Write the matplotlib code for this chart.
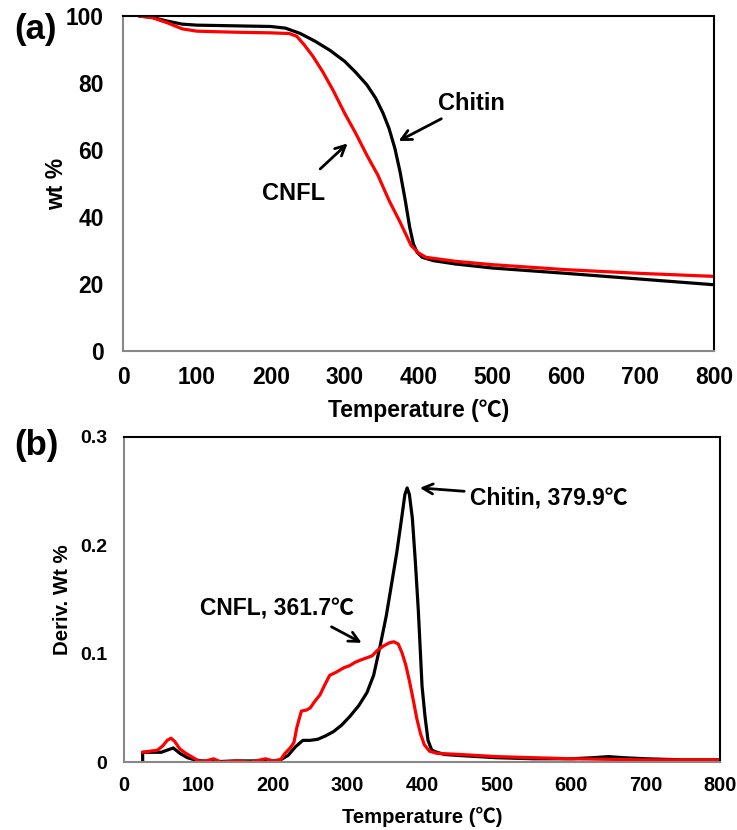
import matplotlib
matplotlib.use("Agg")
import matplotlib.pyplot as plt

plt.rcParams['font.family'] = ['Liberation Sans', 'Noto Sans CJK KR', 'DejaVu Sans']
plt.rcParams['font.weight'] = 'bold'

# ---- (a) TGA data ----
tga_chitin_T = [23, 40, 60, 80, 100, 150, 200, 220, 240, 260, 280, 300, 315, 330, 342, 352, 360, 368, 375, 382, 388, 393, 398, 405, 420, 450, 500, 600, 700, 800]
tga_chitin_wt = [100, 99.6, 98.5, 97.6, 97.3, 97.1, 96.9, 96.4, 94.8, 92.5, 89.8, 86.5, 83.2, 79.5, 75.5, 71, 66.5, 60.5, 53.5, 45, 37, 32, 29.5, 28, 27, 26, 24.8, 23.2, 21.5, 19.8]
tga_cnfl_T = [23, 40, 60, 80, 100, 150, 200, 225, 235, 245, 257, 270, 284, 300, 315, 330, 345, 360, 375, 390, 400, 410, 450, 500, 600, 700, 800]
tga_cnfl_wt = [100, 99.5, 98, 96.2, 95.5, 95.2, 95.0, 94.8, 94, 91.5, 88, 83.5, 78, 71, 65, 58.5, 52.5, 45, 38.5, 31.5, 29.3, 28, 26.8, 25.8, 24.3, 23.2, 22.3]

# ---- (b) DTG data ----
dtg_chitin_T = [25, 25, 35, 50, 58, 66, 75, 85, 95, 105, 130, 150, 180, 200, 210, 220, 230, 240, 250, 260, 270, 281, 292, 303, 315, 326, 335, 344, 352, 360, 366, 372, 377, 380, 383, 387, 391, 395, 400, 404, 408, 413, 420, 430, 450, 500, 550, 600, 630, 650, 670, 700, 750, 800]
dtg_chitin_d = [0, 0.009, 0.009, 0.009, 0.011, 0.013, 0.008, 0.004, 0.002, 0.001, 0.0005, 0.001, 0.001, 0.001, 0.002, 0.006, 0.014, 0.020, 0.020, 0.021, 0.024, 0.028, 0.034, 0.042, 0.052, 0.064, 0.080, 0.108, 0.135, 0.168, 0.193, 0.222, 0.247, 0.253, 0.247, 0.225, 0.185, 0.140, 0.070, 0.042, 0.020, 0.011, 0.009, 0.007, 0.006, 0.004, 0.003, 0.003, 0.004, 0.005, 0.004, 0.003, 0.002, 0.002]
dtg_cnfl_T = [25, 35, 45, 52, 58, 63, 68, 75, 83, 93, 100, 110, 120, 130, 150, 170, 190, 200, 210, 216, 223, 228, 232, 238, 245, 250, 256, 263, 270, 276, 285, 295, 303, 310, 317, 325, 333, 340, 348, 356, 362, 368, 373, 378, 383, 388, 393, 398, 403, 410, 420, 450, 500, 600, 700, 800]
dtg_cnfl_d = [0.009, 0.010, 0.011, 0.015, 0.020, 0.022, 0.019, 0.012, 0.008, 0.004, 0.001, 0.001, 0.003, 0.000, 0.001, 0.000, 0.003, 0.001, 0.002, 0.008, 0.013, 0.018, 0.032, 0.047, 0.048, 0.050, 0.056, 0.062, 0.072, 0.080, 0.083, 0.087, 0.089, 0.092, 0.094, 0.096, 0.098, 0.103, 0.107, 0.110, 0.111, 0.109, 0.101, 0.090, 0.075, 0.058, 0.040, 0.026, 0.016, 0.010, 0.008, 0.007, 0.005, 0.003, 0.002, 0.002]

x_ticks = [0, 100, 200, 300, 400, 500, 600, 700, 800]
tga_y_ticks = [0, 20, 40, 60, 80, 100]
dtg_y_ticks = [0, 0.1, 0.2, 0.3]
dtg_y_labels = ['0', '0.1', '0.2', '0.3']

RED = '#ff0000'
LW = 2.3

fig = plt.figure(figsize=(7.37, 8.30), dpi=100)
ax1 = fig.add_axes([0.1669, 0.577, 0.802, 0.4036])
ax2 = fig.add_axes([0.1683, 0.0819, 0.8087, 0.3916])

def style(ax):
    for s in ['left', 'bottom']:
        ax.spines[s].set_color('#888888')
        ax.spines[s].set_linewidth(1.5)
    for s in ['top', 'right']:
        ax.spines[s].set_color('black')
        ax.spines[s].set_linewidth(1.5)

# (a)
ax1.plot(tga_chitin_T, tga_chitin_wt, color='black', lw=LW)
ax1.plot(tga_cnfl_T, tga_cnfl_wt, color=RED, lw=LW)
ax1.set_xlim(0, 800)
ax1.set_ylim(0, 100)
ax1.set_xticks(x_ticks)
ax1.set_yticks(tga_y_ticks)
ax1.tick_params(labelsize=16.4, length=0)
ax1.tick_params(axis='x', pad=11)
ax1.tick_params(axis='y', pad=14)
style(ax1)
ax1.set_ylabel('wt %', fontsize=16.5, fontweight='bold', va='center')
ax1.yaxis.set_label_coords(-0.112, 0.5)
ax1.set_xlabel('Temperature (℃)', fontsize=16.5, fontweight='bold', va='center')
ax1.xaxis.set_label_coords(0.5, -0.176)
ax1.annotate('Chitin', xy=(373, 62.7), xytext=(426, 74), fontsize=17, fontweight='bold',
             va='center', ha='left',
             arrowprops=dict(arrowstyle='->', lw=2, color='black', shrinkA=2, shrinkB=0, mutation_scale=18))
ax1.annotate('CNFL', xy=(304, 62), xytext=(231, 47), fontsize=17, fontweight='bold',
             va='center', ha='center',
             arrowprops=dict(arrowstyle='->', lw=2, color='black', shrinkA=11, shrinkB=0, mutation_scale=18))
fig.text(0.02, 0.964, '(a)', fontsize=25, fontweight='bold', va='center', ha='left')

# (b)
ax2.plot(dtg_chitin_T, dtg_chitin_d, color='black', lw=LW)
ax2.plot(dtg_cnfl_T, dtg_cnfl_d, color=RED, lw=LW)
ax2.set_xlim(0, 800)
ax2.set_ylim(0, 0.3)
ax2.set_xticks(x_ticks)
ax2.set_yticks(dtg_y_ticks)
ax2.set_yticklabels(dtg_y_labels)
ax2.tick_params(length=0)
ax2.tick_params(axis='x', labelsize=14.3, pad=10)
ax2.tick_params(axis='y', labelsize=14, pad=12)
style(ax2)
ax2.set_ylabel('Deriv. Wt %', fontsize=14.7, fontweight='bold', va='center')
ax2.yaxis.set_label_coords(-0.104, 0.5)
ax2.set_xlabel('Temperature (℃)', fontsize=14.6, fontweight='bold', va='center')
ax2.xaxis.set_label_coords(0.5, -0.169)
ax2.annotate('Chitin, 379.9℃', xy=(397, 0.253), xytext=(464, 0.244), fontsize=16.5, fontweight='bold',
             va='center', ha='left',
             arrowprops=dict(arrowstyle='->', lw=2, color='black', shrinkA=2, shrinkB=0, mutation_scale=18))
ax2.annotate('CNFL, 361.7℃', xy=(319, 0.110), xytext=(102, 0.141), fontsize=16.5, fontweight='bold',
             va='center', ha='left',
             arrowprops=dict(arrowstyle='->', lw=2, color='black', shrinkA=5, shrinkB=0, mutation_scale=18,
                             relpos=(0.78, 0)))
fig.text(0.02, 0.463, '(b)', fontsize=25, fontweight='bold', va='center', ha='left')

fig.savefig('out.png', dpi=100)
